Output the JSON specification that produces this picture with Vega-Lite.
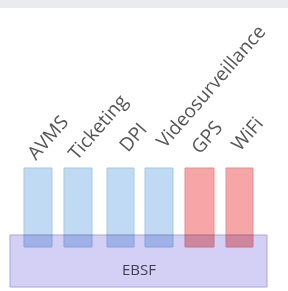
{
  "$schema": "https://vega.github.io/schema/vega-lite/v6.json",
  "width": 288,
  "height": 291,
  "autosize": {"type": "fit", "contains": "padding"},
  "padding": 0,
  "background": "#ffffff",
  "config": {"view": {"stroke": null}},
  "datasets": {
    "band": [{"x0": 0, "x1": 288, "y0": 0, "y1": 8}],
    "base": [{"name": "EBSF", "x0": 10, "x1": 267, "y0": 235, "y1": 287, "cx": 139, "cy": 270}],
    "bars": [
      {"name": "AVMS", "kind": "blue", "x0": 24, "x1": 52, "y0": 168, "y1": 247, "lx": 36, "ly": 161},
      {"name": "Ticketing", "kind": "blue", "x0": 64, "x1": 92, "y0": 168, "y1": 247, "lx": 77, "ly": 161},
      {"name": "DPI", "kind": "blue", "x0": 107, "x1": 134, "y0": 168, "y1": 247, "lx": 128, "ly": 153},
      {"name": "Videosurveillance", "kind": "blue", "x0": 145, "x1": 173, "y0": 168, "y1": 247, "lx": 165, "ly": 149},
      {"name": "GPS", "kind": "red", "x0": 185, "x1": 214, "y0": 168, "y1": 247, "lx": 200, "ly": 155},
      {"name": "WiFi", "kind": "red", "x0": 226, "x1": 253, "y0": 168, "y1": 247, "lx": 240, "ly": 152}
    ]
  },
  "layer": [
    {
      "data": {"name": "band"},
      "mark": {"type": "rect", "color": "#e9ecef"},
      "encoding": {
        "x": {"field": "x0", "type": "quantitative", "scale": {"domain": [0, 288]}, "axis": null},
        "x2": {"field": "x1"},
        "y": {"field": "y0", "type": "quantitative", "scale": {"domain": [0, 291], "reverse": true}, "axis": null},
        "y2": {"field": "y1"}
      }
    },
    {
      "data": {"name": "base"},
      "mark": {"type": "rect", "fill": "#d4cff4", "stroke": "#aaa4d8", "strokeWidth": 1},
      "encoding": {
        "x": {"field": "x0", "type": "quantitative", "scale": {"domain": [0, 288]}, "axis": null},
        "x2": {"field": "x1"},
        "y": {"field": "y0", "type": "quantitative", "scale": {"domain": [0, 291], "reverse": true}, "axis": null},
        "y2": {"field": "y1"}
      }
    },
    {
      "data": {"name": "base"},
      "mark": {"type": "text", "font": "Open Sans", "fontSize": 15, "color": "#3e3e55", "align": "center", "baseline": "middle"},
      "encoding": {
        "x": {"field": "cx", "type": "quantitative", "scale": {"domain": [0, 288]}, "axis": null},
        "y": {"field": "cy", "type": "quantitative", "scale": {"domain": [0, 291], "reverse": true}, "axis": null},
        "text": {"field": "name"}
      }
    },
    {
      "data": {"name": "bars"},
      "mark": {"type": "rect", "strokeWidth": 1, "blend": "multiply"},
      "encoding": {
        "x": {"field": "x0", "type": "quantitative", "scale": {"domain": [0, 288]}, "axis": null},
        "x2": {"field": "x1"},
        "y": {"field": "y0", "type": "quantitative", "scale": {"domain": [0, 291], "reverse": true}, "axis": null},
        "y2": {"field": "y1"},
        "fill": {"field": "kind", "type": "nominal", "scale": {"domain": ["blue", "red"], "range": ["#bfdaf2", "#f6a6a6"]}, "legend": null},
        "stroke": {"field": "kind", "type": "nominal", "scale": {"domain": ["blue", "red"], "range": ["#a5c8e6", "#e99090"]}, "legend": null}
      }
    },
    {
      "data": {"name": "bars"},
      "mark": {"type": "text", "font": "Open Sans", "fontSize": 19, "color": "#555555", "align": "left", "baseline": "alphabetic", "angle": 311},
      "encoding": {
        "x": {"field": "lx", "type": "quantitative", "scale": {"domain": [0, 288]}, "axis": null},
        "y": {"field": "ly", "type": "quantitative", "scale": {"domain": [0, 291], "reverse": true}, "axis": null},
        "text": {"field": "name"}
      }
    }
  ]
}
